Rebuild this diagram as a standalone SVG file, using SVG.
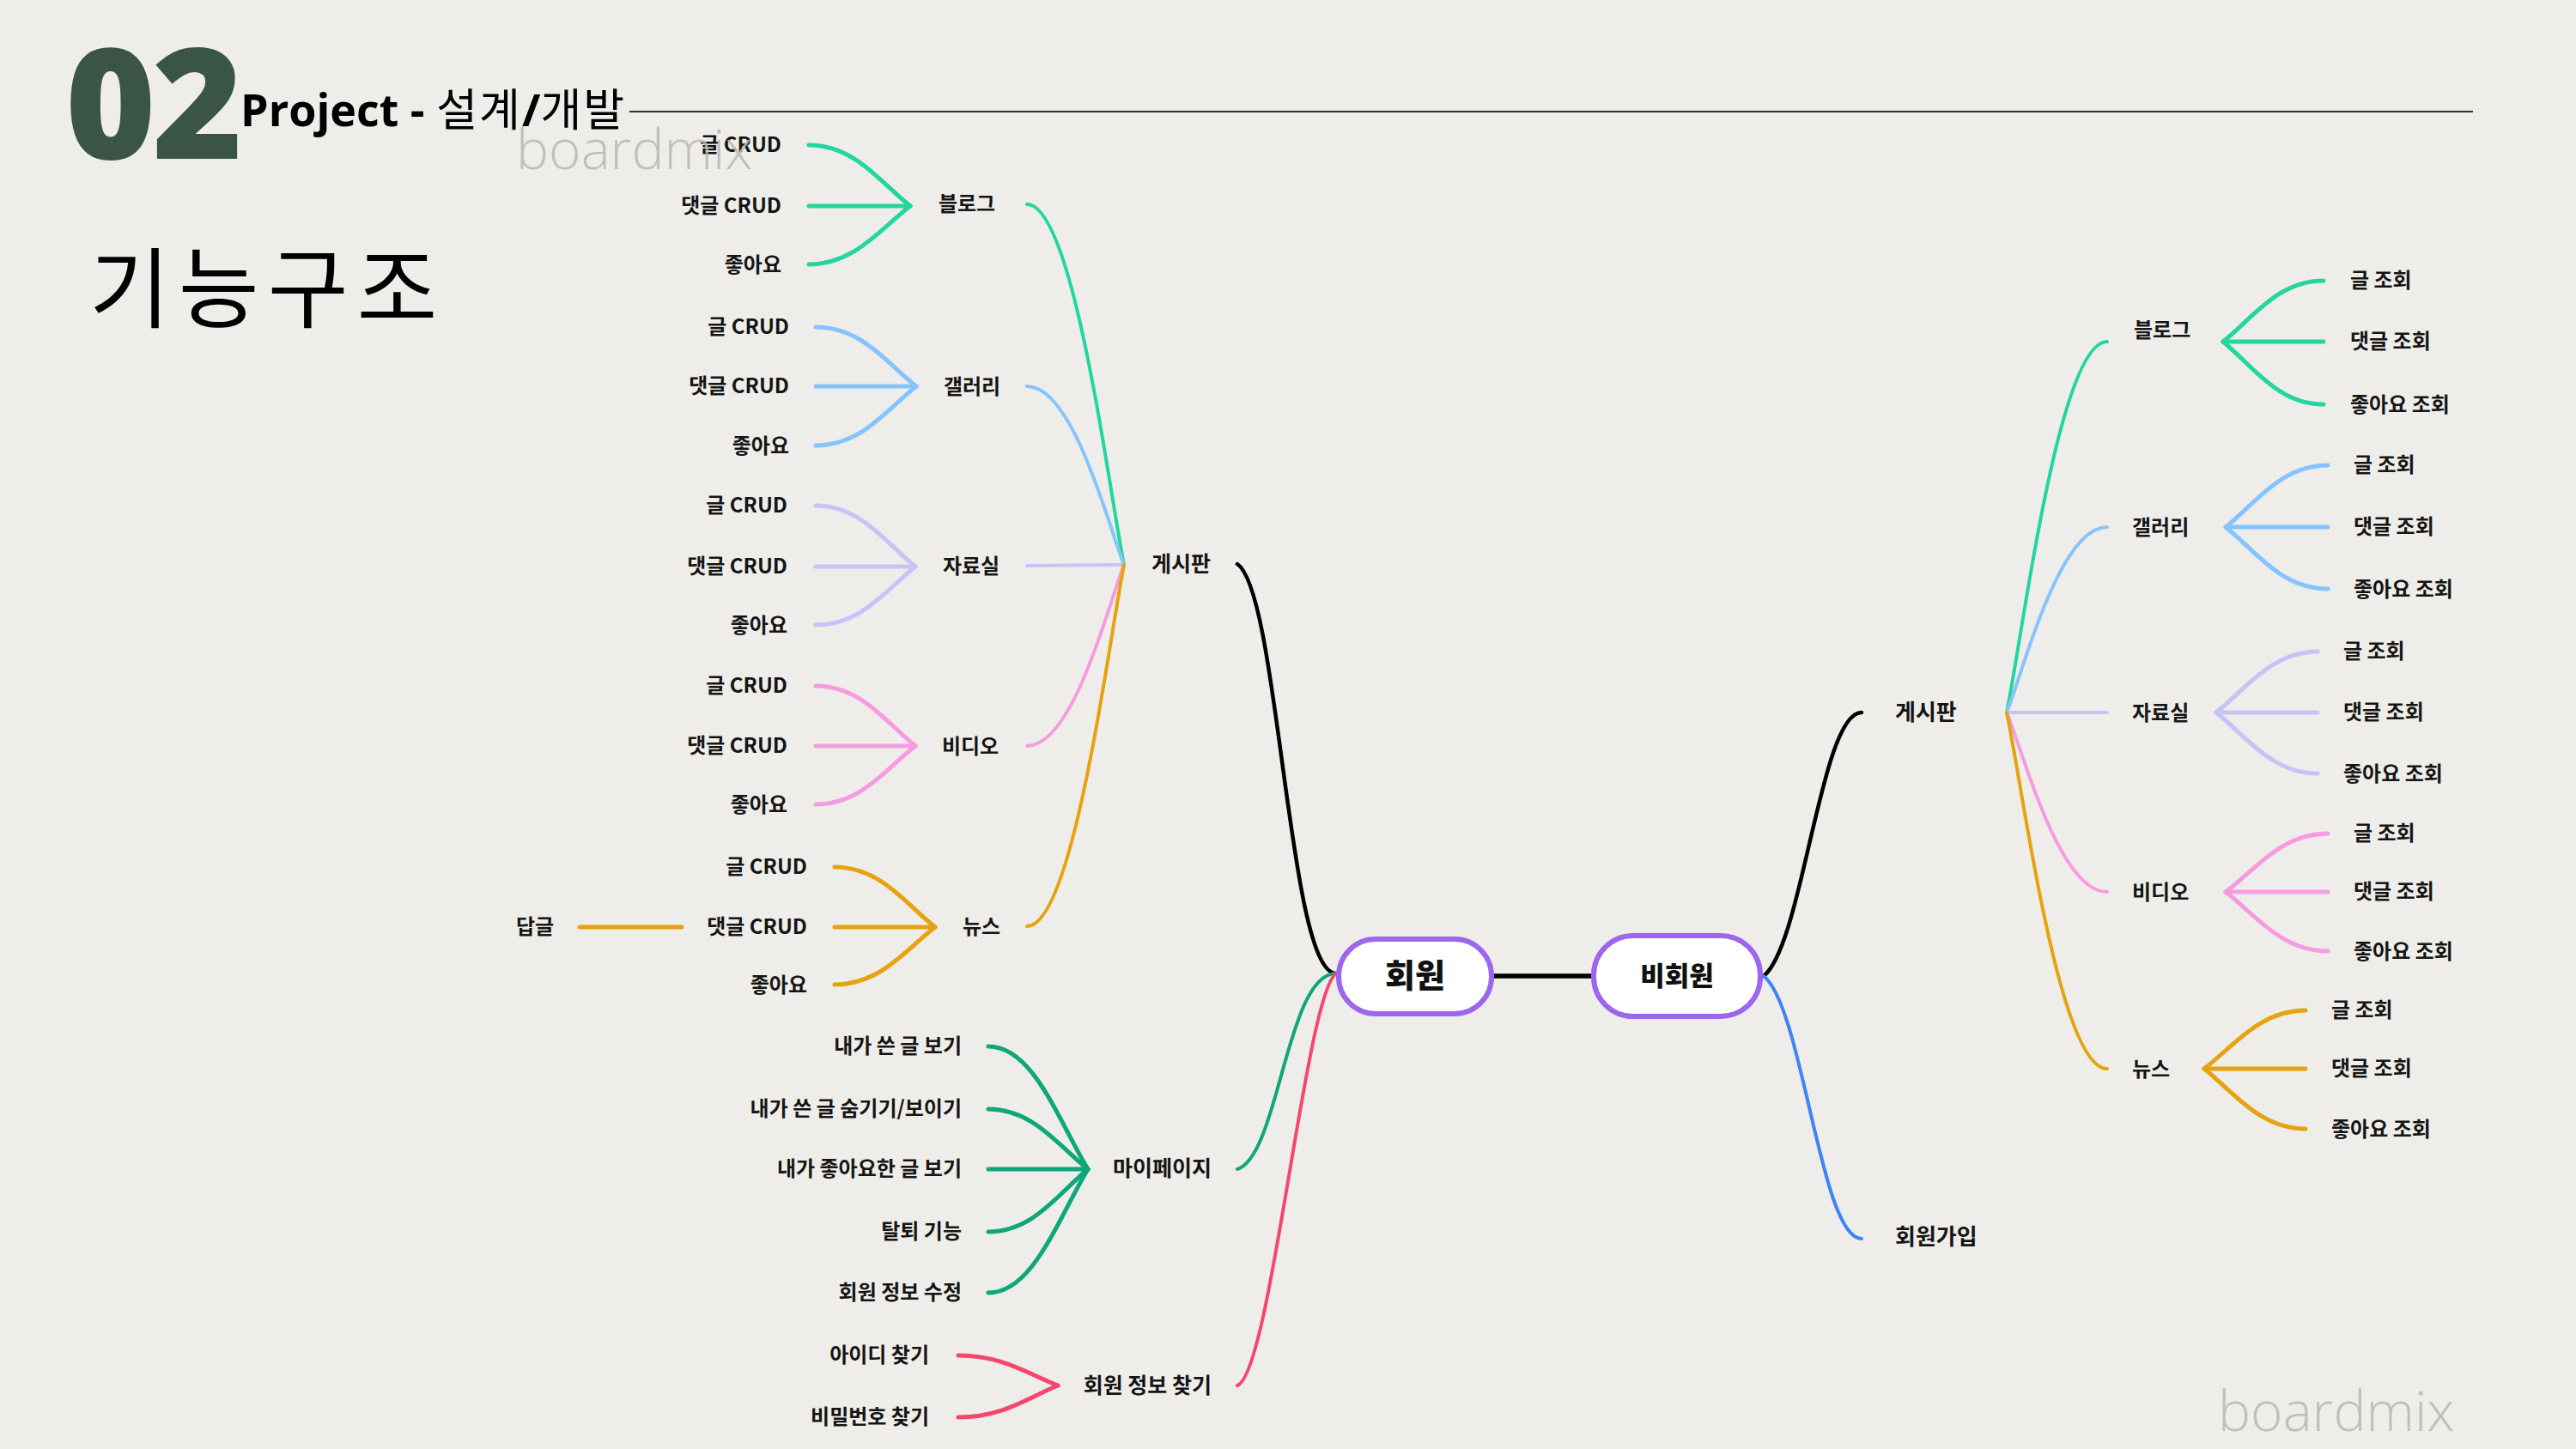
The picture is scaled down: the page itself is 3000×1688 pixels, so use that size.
<svg xmlns="http://www.w3.org/2000/svg" width="3000" height="1688" viewBox="0 0 3000 1688">
<style>
.lbl{font-family:"Noto Sans CJK KR","Noto Sans",sans-serif;font-weight:700;font-size:24px;fill:#151515}
.l1{font-size:26px}
.l1s{font-size:25px}
.end{text-anchor:end}
.mid{text-anchor:middle}
.c{fill:none;stroke-linecap:round}
.leaf{stroke-width:5}
.br{stroke-width:4}
.teal{stroke:#22D6A0}
.sky{stroke:#86C4FF}
.lav{stroke:#C6C3F8}
.pink{stroke:#F79BE0}
.ora{stroke:#E5A310}
.grn{stroke:#0FA77A}
.red{stroke:#F5476E}
.blue{stroke:#3D84F6}
.blk{stroke:#000;stroke-width:4.5}
.node{fill:#fff;stroke:#9E66EF;stroke-width:6}
.ntx{font-family:"Noto Sans CJK KR",sans-serif;font-weight:900;fill:#111;text-anchor:middle}
.wm{font-family:"Open Sans","Noto Sans",sans-serif;font-weight:300;font-size:64px;fill:#B9B8B3;opacity:0.85}
</style>
<rect width="3000" height="1688" fill="#EEEDE9"/>

<g id="header">
<text x="76" y="185" font-family="Open Sans, sans-serif" font-weight="800" font-size="180" fill="#3A5446" letter-spacing="-4">02</text>
<text x="280" y="147" font-family="Open Sans, Noto Sans CJK KR, sans-serif" font-size="52" fill="#000"><tspan font-weight="700">Project -</tspan><tspan font-family="Noto Sans CJK KR, sans-serif" font-weight="400" letter-spacing="2"> 설계</tspan><tspan font-weight="700">/</tspan><tspan font-family="Noto Sans CJK KR, sans-serif" font-weight="400" letter-spacing="2">개발</tspan></text>
<line x1="733" y1="130" x2="2880" y2="130" stroke="#333" stroke-width="2"/>
<text x="104" y="374" font-family="Noto Sans CJK KR, sans-serif" font-weight="400" font-size="102" fill="#000" letter-spacing="10">기능구조</text>
</g>

<g id="connectors">
<!-- left blog -->
<path class="c leaf teal" d="M942 169 C995 169 1025 212 1060 240"/>
<path class="c leaf teal" d="M942 240 L1060 240"/>
<path class="c leaf teal" d="M942 308 C995 308 1025 267 1060 240"/>
<!-- left gallery -->
<path class="c leaf sky" d="M950 381 C1003 381 1032 422 1067 450"/>
<path class="c leaf sky" d="M950 450 L1067 450"/>
<path class="c leaf sky" d="M950 519 C1003 519 1032 478 1067 450"/>
<!-- left archive -->
<path class="c leaf lav" d="M950 589 C1003 589 1031 632 1066 660"/>
<path class="c leaf lav" d="M950 660 L1066 660"/>
<path class="c leaf lav" d="M950 728 C1003 728 1031 688 1066 660"/>
<!-- left video -->
<path class="c leaf pink" d="M950 799 C1003 799 1031 841 1066 869"/>
<path class="c leaf pink" d="M950 869 L1066 869"/>
<path class="c leaf pink" d="M950 937 C1003 937 1031 896 1066 869"/>
<!-- left news -->
<path class="c leaf ora" d="M972 1010 C1025 1010 1054 1052 1089 1080"/>
<path class="c leaf ora" d="M972 1080 L1089 1080"/>
<path class="c leaf ora" d="M972 1147 C1025 1147 1054 1107 1089 1080"/>
<path class="c leaf ora" d="M675 1080 L794 1080"/>
<!-- left level2 to board hub -->
<path class="c br teal" d="M1196 238 C1250 238 1290 561 1309 658"/>
<path class="c br sky" d="M1196 450 C1250 450 1290 610 1309 658"/>
<path class="c br lav" d="M1196 659 L1309 658"/>
<path class="c br pink" d="M1196 869 C1250 869 1290 707 1309 658"/>
<path class="c br ora" d="M1196 1079 C1250 1079 1290 755 1309 658"/>
<!-- mypage leaves -->
<path class="c leaf grn" d="M1151 1219 C1203 1219 1232 1304 1267 1362"/>
<path class="c leaf grn" d="M1151 1292 C1203 1292 1232 1334 1267 1362"/>
<path class="c leaf grn" d="M1151 1362 L1267 1362"/>
<path class="c leaf grn" d="M1151 1435 C1203 1435 1232 1391 1267 1362"/>
<path class="c leaf grn" d="M1151 1506 C1203 1506 1232 1420 1267 1362"/>
<!-- find info leaves -->
<path class="c leaf red" d="M1116 1579 C1167 1579 1196 1600 1232 1614"/>
<path class="c leaf red" d="M1116 1651 C1167 1651 1196 1629 1232 1614"/>
<!-- main left -->
<path class="c blk" d="M1441 657 C1490 690 1500 1134 1556 1134"/>
<path class="c br grn" d="M1441 1362 C1490 1346 1498 1134 1556 1134"/>
<path class="c br red" d="M1441 1614 C1480 1600 1520 1160 1556 1134"/>
<line x1="1737" y1="1137" x2="1856" y2="1137" stroke="#000" stroke-width="5.5"/>
<!-- main right -->
<path class="c blk" d="M2054 1137 C2100 1100 2120 830 2168 830"/>
<path class="c br blue" d="M2054 1137 C2100 1174 2120 1443 2168 1443"/>
<!-- right level2 -->
<path class="c br teal" d="M2337 830 C2357 731 2398 398 2454 398"/>
<path class="c br sky" d="M2337 830 C2357 780 2398 614 2454 614"/>
<path class="c br lav" d="M2337 830 L2454 830"/>
<path class="c br pink" d="M2337 830 C2357 878 2398 1039 2454 1039"/>
<path class="c br ora" d="M2337 830 C2357 925 2398 1245 2454 1245"/>
<!-- right leaves -->
<path class="c leaf teal" d="M2589 398 C2624 370 2653 327 2706 327"/>
<path class="c leaf teal" d="M2589 398 L2706 398"/>
<path class="c leaf teal" d="M2589 398 C2624 427 2653 471 2706 471"/>
<path class="c leaf sky" d="M2592 614 C2628 585 2657 542 2711 542"/>
<path class="c leaf sky" d="M2592 614 L2711 614"/>
<path class="c leaf sky" d="M2592 614 C2628 643 2657 686 2711 686"/>
<path class="c leaf lav" d="M2581 830 C2616 802 2646 759 2699 759"/>
<path class="c leaf lav" d="M2581 830 L2699 830"/>
<path class="c leaf lav" d="M2581 830 C2616 858 2646 901 2699 901"/>
<path class="c leaf pink" d="M2592 1039 C2628 1012 2657 971 2711 971"/>
<path class="c leaf pink" d="M2592 1039 L2711 1039"/>
<path class="c leaf pink" d="M2592 1039 C2628 1067 2657 1108 2711 1108"/>
<path class="c leaf ora" d="M2567 1245 C2602 1218 2632 1177 2685 1177"/>
<path class="c leaf ora" d="M2567 1245 L2685 1245"/>
<path class="c leaf ora" d="M2567 1245 C2602 1273 2632 1315 2685 1315"/>
</g>

<g id="node-member">
<rect class="node" x="1559" y="1094" width="178" height="87" rx="43"/>
<text class="ntx" x="1648" y="1150" font-size="38">회원</text>
</g>
<g id="node-guest">
<rect class="node" x="1856" y="1090" width="194" height="94" rx="46"/>
<text class="ntx" x="1953" y="1148" font-size="31">비회원</text>
</g>

<g id="left-level1">
<text class="lbl l1s end" x="1410" y="666">게시판</text>
<text class="lbl l1s end" x="1411" y="1370">마이페이지</text>
<text class="lbl l1s end" x="1411" y="1623">회원 정보 찾기</text>
</g>
<g id="left-level2">
<text class="lbl mid" x="1126" y="246">블로그</text>
<text class="lbl mid" x="1132" y="459">갤러리</text>
<text class="lbl mid" x="1131" y="668">자료실</text>
<text class="lbl mid" x="1130" y="878">비디오</text>
<text class="lbl mid" x="1143" y="1088">뉴스</text>
</g>
<g id="left-leaves">
<text class="lbl end" x="910" y="177">글 CRUD</text>
<text class="lbl end" x="910" y="248">댓글 CRUD</text>
<text class="lbl end" x="910" y="317">좋아요</text>
<text class="lbl end" x="919" y="389">글 CRUD</text>
<text class="lbl end" x="919" y="458">댓글 CRUD</text>
<text class="lbl end" x="919" y="528">좋아요</text>
<text class="lbl end" x="917" y="597">글 CRUD</text>
<text class="lbl end" x="917" y="668">댓글 CRUD</text>
<text class="lbl end" x="917" y="737">좋아요</text>
<text class="lbl end" x="917" y="807">글 CRUD</text>
<text class="lbl end" x="917" y="877">댓글 CRUD</text>
<text class="lbl end" x="917" y="946">좋아요</text>
<text class="lbl end" x="940" y="1018">글 CRUD</text>
<text class="lbl end" x="940" y="1088">댓글 CRUD</text>
<text class="lbl end" x="940" y="1156">좋아요</text>
<text class="lbl" x="601" y="1088">답글</text>
<text class="lbl end" x="1120" y="1227">내가 쓴 글 보기</text>
<text class="lbl end" x="1120" y="1300">내가 쓴 글 숨기기/보이기</text>
<text class="lbl end" x="1120" y="1370">내가 좋아요한 글 보기</text>
<text class="lbl end" x="1120" y="1443">탈퇴 기능</text>
<text class="lbl end" x="1120" y="1514">회원 정보 수정</text>
<text class="lbl end" x="1082" y="1587">아이디 찾기</text>
<text class="lbl end" x="1082" y="1659">비밀번호 찾기</text>
</g>

<g id="right-level1">
<text class="lbl l1" x="2207" y="839">게시판</text>
<text class="lbl l1" x="2207" y="1450">회원가입</text>
</g>
<g id="right-level2">
<text class="lbl" x="2485" y="393">블로그</text>
<text class="lbl" x="2483" y="623">갤러리</text>
<text class="lbl" x="2483" y="839">자료실</text>
<text class="lbl" x="2483" y="1048">비디오</text>
<text class="lbl" x="2483" y="1254">뉴스</text>
</g>
<g id="right-leaves">
<text class="lbl" x="2737" y="335">글 조회</text>
<text class="lbl" x="2737" y="406">댓글 조회</text>
<text class="lbl" x="2737" y="480">좋아요 조회</text>
<text class="lbl" x="2741" y="550">글 조회</text>
<text class="lbl" x="2741" y="622">댓글 조회</text>
<text class="lbl" x="2741" y="695">좋아요 조회</text>
<text class="lbl" x="2729" y="767">글 조회</text>
<text class="lbl" x="2729" y="838">댓글 조회</text>
<text class="lbl" x="2729" y="910">좋아요 조회</text>
<text class="lbl" x="2741" y="979">글 조회</text>
<text class="lbl" x="2741" y="1047">댓글 조회</text>
<text class="lbl" x="2741" y="1117">좋아요 조회</text>
<text class="lbl" x="2715" y="1185">글 조회</text>
<text class="lbl" x="2715" y="1253">댓글 조회</text>
<text class="lbl" x="2715" y="1324">좋아요 조회</text>
</g>

<g id="watermarks">
<text class="wm" x="601" y="197">boardmix</text>
<text class="wm" x="2583" y="1667">boardmix</text>
</g>
</svg>
